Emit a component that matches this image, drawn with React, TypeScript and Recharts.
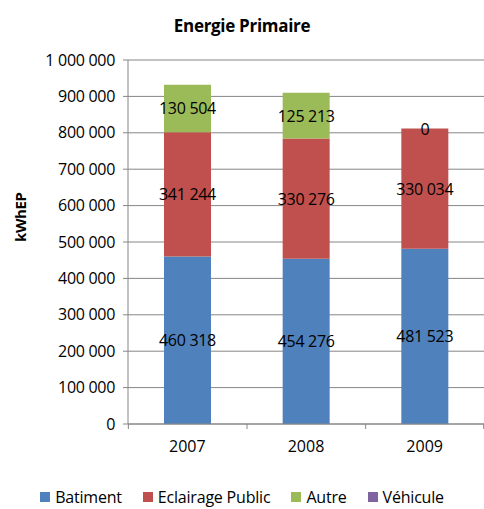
import { Bar, BarChart, CartesianGrid, LabelList, XAxis, YAxis } from 'recharts';

// Energie primaire par année, empilé par poste (kWhEP)
const ANNEES = ['2007', '2008', '2009'];
const BATIMENT = [460318, 454276, 481523];
const ECLAIRAGE = [341244, 330276, 330034];
const AUTRE = [130504, 125213, 0];
const VEHICULE = [0, 0, 0];
const TICKS_Y = [0, 100000, 200000, 300000, 400000, 500000, 600000, 700000, 800000, 900000, 1000000];

const SERIES = [
  { key: 'batiment', nom: 'Batiment', couleur: '#4F81BD', etiquette: true },
  { key: 'eclairage', nom: 'Eclairage Public', couleur: '#C0504D', etiquette: true },
  { key: 'autre', nom: 'Autre', couleur: '#9BBB59', etiquette: true },
  { key: 'vehicule', nom: 'Véhicule', couleur: '#8064A2', etiquette: false },
];

const data = ANNEES.map((annee, i) => ({
  annee,
  batiment: BATIMENT[i],
  eclairage: ECLAIRAGE[i],
  autre: AUTRE[i],
  vehicule: VEHICULE[i],
}));

const police = '"Open Sans", "Noto Sans", sans-serif';

function milliers(v: number): string {
  return String(v).replace(/\B(?=(\d{3})+(?!\d))/g, ' ');
}

function TickAnnee(props: any) {
  const { x, y, payload, index } = props;
  const demi = 59;
  return (
    <g>
      <line x1={x - demi} x2={x - demi} y1={y - 8} y2={y - 3} stroke="#868686" />
      {index === ANNEES.length - 1 && <line x1={x + demi} x2={x + demi} y1={y - 8} y2={y - 3} stroke="#868686" />}
      <text x={x} y={y + 20} textAnchor="middle" fontSize={16} fill="#000" fontFamily={police}>
        {payload.value}
      </text>
    </g>
  );
}

// Étiquette centrée, sans retour à la ligne (le "0" de 2009 reste affiché)
function Etiquette(props: any) {
  const { x, y, width, height, value } = props;
  return (
    <text
      x={Number(x) + Number(width) / 2}
      y={Number(y) + Number(height) / 2}
      textAnchor="middle"
      dominantBaseline="central"
      fontSize={16}
      fill="#000"
      fontFamily={police}
      letterSpacing={-0.3}
    >
      {milliers(Number(value))}
    </text>
  );
}

function Legende() {
  return (
    <div
      style={{
        position: 'absolute',
        top: 486,
        width: 484,
        display: 'flex',
        justifyContent: 'center',
        gap: 21,
        fontFamily: police,
        fontSize: 16,
        letterSpacing: -0.2,
        color: '#000',
      }}
    >
      {SERIES.map((s) => (
        <span key={s.key} style={{ display: 'inline-flex', alignItems: 'center', gap: 5 }}>
          <span style={{ width: 10, height: 10, background: s.couleur, display: 'inline-block' }} />
          {s.nom}
        </span>
      ))}
    </div>
  );
}

export default function App() {
  return (
    <div style={{ position: 'absolute', left: 0, top: 0, width: 484, height: 509, background: '#fff' }}>
      <div
        style={{
          position: 'absolute',
          top: 14,
          width: 484,
          textAlign: 'center',
          fontFamily: police,
          fontWeight: 700,
          fontSize: 17,
          letterSpacing: -0.3,
        }}
      >
        Energie Primaire
      </div>
      <BarChart width={484} height={509} data={data} margin={{ top: 60, right: 0, bottom: 55, left: 30 }}>
        <CartesianGrid vertical={false} stroke="#868686" />
        <XAxis dataKey="annee" tick={<TickAnnee />} tickLine={false} axisLine={{ stroke: '#868686' }} />
        <YAxis
          width={98}
          domain={[0, 1000000]}
          ticks={TICKS_Y}
          tickFormatter={milliers}
          tick={{ fill: '#000', fontSize: 16, fontFamily: police, letterSpacing: -0.3 }}
          tickLine={{ stroke: '#868686' }}
          tickSize={5}
          tickMargin={8}
          axisLine={{ stroke: '#868686' }}
          label={{
            value: 'kWhEP',
            angle: -90,
            position: 'insideLeft',
            offset: -9,
            style: { fontWeight: 700, fontSize: 15, fontFamily: police, fill: '#000', letterSpacing: -0.4 },
          }}
        />
        {SERIES.map((s) => (
          <Bar
            key={s.key}
            dataKey={s.key}
            name={s.nom}
            stackId="total"
            fill={s.couleur}
            barSize={47}
            minPointSize={s.etiquette ? 0.01 : 0}
            isAnimationActive={false}
          >
            {s.etiquette && <LabelList dataKey={s.key} content={<Etiquette />} />}
          </Bar>
        ))}
      </BarChart>
      <Legende />
    </div>
  );
}
